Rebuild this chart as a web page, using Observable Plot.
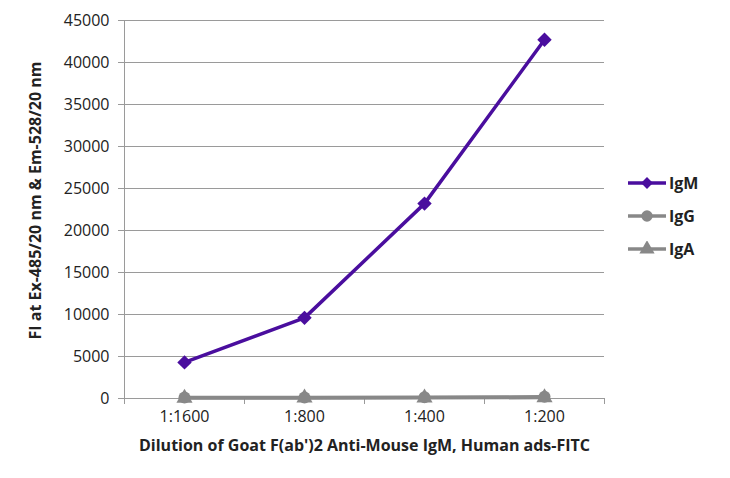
<!DOCTYPE html>
<html><head><meta charset="utf-8">
<script src="https://cdn.jsdelivr.net/npm/d3@7"></script>
<script src="https://cdn.jsdelivr.net/npm/@observablehq/plot@0.6"></script>
<style>
body{margin:0;background:#fff;font-family:"Open Sans",sans-serif;}
#wrap{position:relative;width:730px;height:478px;}
#legend{position:absolute;left:627px;top:166px;font:bold 16px "Open Sans",sans-serif;color:#222;}
.item{display:flex;align-items:center;height:33px;}
.item svg{margin-right:2px;}
</style>
</head><body>
<div id="wrap"><div id="legend"></div></div>
<script>
const dilutions = ["1:1600", "1:800", "1:400", "1:200"];
const igM = [4300, 9600, 23200, 42700];
const igG = [120, 130, 160, 200];
const igA = [60, 70, 90, 110];
const seriesNames = ["IgM", "IgG", "IgA"];
const seriesColors = ["#4a0e9e", "#888888", "#888888"];
const seriesSymbols = ["diamond2", "circle", "triangle"];
const yTicks = [0, 5000, 10000, 15000, 20000, 25000, 30000, 35000, 40000, 45000];
const yLabel = "FI at Ex-485/20 nm & Em-528/20 nm";
const xLabel = "Dilution of Goat F(ab')2 Anti-Mouse IgM, Human ads-FITC";

const valuesBySeries = [igM, igG, igA];
const rows = [];
seriesNames.forEach((s, k) => valuesBySeries[k].forEach((v, i) => rows.push({series: s, i, dilution: dilutions[i], value: v})));
const idx = dilutions.map((d, i) => i);
const bounds = [-0.5, ...idx.map(i => i + 0.5)];

const drawOrder = ["IgA", "IgG", "IgM"];
const marks = [
  Plot.gridY(yTicks, {stroke: "#9a9a9a", strokeOpacity: 1, strokeWidth: 1}),
  Plot.ruleX([-0.5], {stroke: "#9a9a9a", strokeWidth: 1}),
  Plot.axisY(yTicks, {tickSize: 6, tickPadding: 9, fontSize: 16, stroke: "#9a9a9a", fill: "#222", label: null, tickFormat: d => String(d)}),
  Plot.axisX(bounds, {tickSize: 6, tickFormat: () => "", stroke: "#9a9a9a", label: null}),
  Plot.axisX(idx, {tickSize: 0, tickPadding: 12, fontSize: 16, fill: "#222", tickFormat: i => dilutions[i], label: null}),
];
for (const s of drawOrder) {
  const k = seriesNames.indexOf(s);
  const data = rows.filter(r => r.series === s);
  marks.push(Plot.line(data, {x: "i", y: "value", stroke: seriesColors[k], strokeWidth: 3.5}));
  marks.push(Plot.dot(data, {x: "i", y: "value", fill: seriesColors[k], symbol: seriesSymbols[k], r: s === "IgM" ? 6.5 : 6}));
}
marks.push(Plot.text([yLabel], {frameAnchor: "left", textAnchor: "middle", rotate: -90, dx: -89, dy: -9, fontSize: 16, fontWeight: "bold", fill: "#222"}));
marks.push(Plot.text([xLabel], {frameAnchor: "bottom", textAnchor: "middle", dy: 52, fontSize: 16, fontWeight: "bold", fill: "#222"}));

const chart = Plot.plot({
  width: 730, height: 478,
  marginLeft: 124, marginRight: 126, marginTop: 20, marginBottom: 80,
  style: {fontFamily: "'Open Sans', sans-serif", background: "#fff"},
  x: {type: "linear", domain: [-0.5, dilutions.length - 0.5]},
  y: {domain: [0, 45000]},
  marks
});
const wrap = document.getElementById("wrap");
wrap.insertBefore(chart, wrap.firstChild);

const legend = document.getElementById("legend");
seriesNames.forEach((s, k) => {
  const sym = d3.symbol(k === 0 ? d3.symbolSquare : k === 1 ? d3.symbolCircle : d3.symbolTriangle, k === 0 ? 70 : 100)();
  const item = document.createElement("div");
  item.className = "item";
  item.innerHTML = `<svg width="40" height="16"><line x1="1" x2="39" y1="8" y2="8" stroke="${seriesColors[k]}" stroke-width="3.5"/><path d="${sym}" transform="translate(20,8)${k === 0 ? ' rotate(45)' : ''}" fill="${seriesColors[k]}"/></svg><span>${s}</span>`;
  legend.appendChild(item);
});
</script>
</body></html>
